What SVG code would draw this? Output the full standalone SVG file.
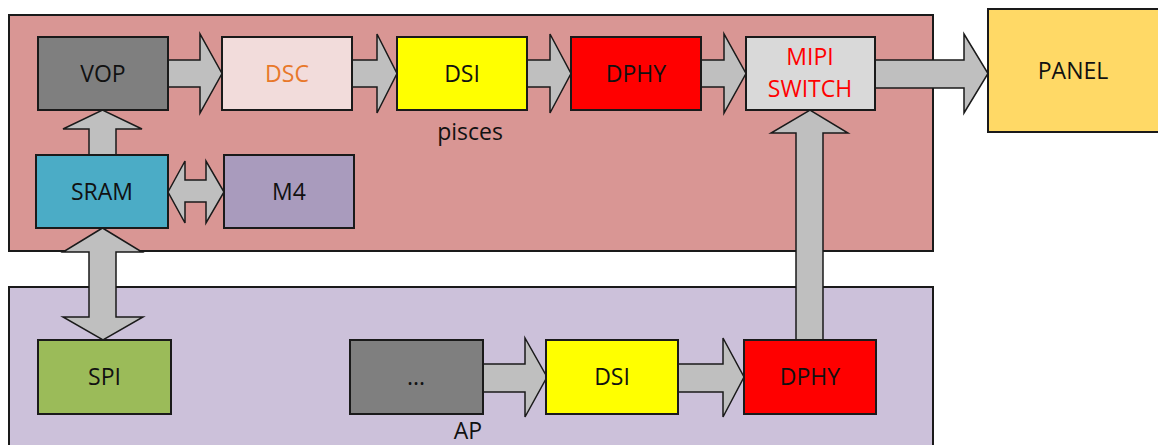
<svg xmlns="http://www.w3.org/2000/svg" width="1158" height="445" viewBox="0 0 1158 445">
<style>
.box{stroke:#1a1a1a;stroke-width:2}
.ar{fill:#BFBFBF;stroke:#1a1a1a;stroke-width:1.5;stroke-linejoin:miter}
.t{font-family:"Open Sans","Liberation Sans",sans-serif;font-size:23px;fill:#111;text-anchor:middle}
</style>
<rect width="1158" height="445" fill="#ffffff"/>
<g id="pisces">
<rect class="box" x="9" y="15" width="924" height="236" fill="#D99694"/>
<text class="t" x="470" y="140">pisces</text>
</g>
<g id="ap">
<rect class="box" x="9" y="287" width="924" height="170" fill="#CCC1DA"/>
<text class="t" x="468" y="439">AP</text>
</g>
<g id="connectors">
<polygon class="ar" points="168,60 200,60 200,34 222,73.5 200,113 200,87 168,87"/>
<polygon class="ar" points="352,60 377,60 377,34 397,73.5 377,113 377,87 352,87"/>
<polygon class="ar" points="527,60 550,60 550,34 571,73.5 550,113 550,87 527,87"/>
<polygon class="ar" points="701,60 724,60 724,34 746,73.5 724,113 724,87 701,87"/>
<polygon class="ar" points="875,60 964,60 964,34 988,73.5 964,113 964,88 875,88"/>
<polygon class="ar" points="89,155 89,129 63,129 102.5,110 142,129 116,129 116,155"/>
<polygon class="ar" points="168,192 185,161 185,180 206,180 206,161 224,192 206,223 206,202 185,202 185,223"/>
<polygon class="ar" points="102.5,228 142,252 116,252 116,317 143,317 103,340 63,317 89,317 89,252 63,252"/>
<polygon class="ar" points="483,364 525,364 525,338 547,377 525,417 525,392 483,392"/>
<polygon class="ar" points="678,364 723,364 723,338 744,377 723,417 723,392 678,392"/>
<polygon class="ar" points="796,340 796,133 771,133 810,110 848,133 823,133 823,340"/>
</g>
<g id="vop">
<rect class="box" x="38" y="37" width="130" height="73" fill="#7F7F7F"/>
<text class="t" x="103" y="82">VOP</text>
</g>
<g id="dsc">
<rect class="box" x="222" y="37" width="130" height="73" fill="#F2DCDB"/>
<text class="t" x="287" y="82" style="fill:#E8782A">DSC</text>
</g>
<g id="dsi-pisces">
<rect class="box" x="397" y="37" width="130" height="73" fill="#FFFF00"/>
<text class="t" x="462" y="82">DSI</text>
</g>
<g id="dphy-pisces">
<rect class="box" x="571" y="37" width="130" height="73" fill="#FF0000"/>
<text class="t" x="636" y="82">DPHY</text>
</g>
<g id="mipi-switch">
<rect class="box" x="746" y="37" width="129" height="73" fill="#D9D9D9"/>
<text class="t" x="810" y="65" style="fill:#FF0000">MIPI</text>
<text class="t" x="810" y="97" style="fill:#FF0000">SWITCH</text>
</g>
<g id="panel">
<rect class="box" x="988" y="9" width="172" height="123" fill="#FFD966"/>
<text class="t" x="1073" y="79">PANEL</text>
</g>
<g id="sram">
<rect class="box" x="36" y="155" width="132" height="73" fill="#4BACC6"/>
<text class="t" x="102" y="200">SRAM</text>
</g>
<g id="m4">
<rect class="box" x="224" y="155" width="130" height="73" fill="#A99BBD"/>
<text class="t" x="289" y="200">M4</text>
</g>
<g id="spi">
<rect class="box" x="38" y="340" width="133" height="74" fill="#9BBB59"/>
<text class="t" x="104.5" y="385">SPI</text>
</g>
<g id="dots">
<rect class="box" x="350" y="340" width="133" height="74" fill="#7F7F7F"/>
<text class="t" x="416" y="385">...</text>
</g>
<g id="dsi-ap">
<rect class="box" x="546" y="340" width="132" height="74" fill="#FFFF00"/>
<text class="t" x="612" y="385">DSI</text>
</g>
<g id="dphy-ap">
<rect class="box" x="744" y="340" width="132" height="74" fill="#FF0000"/>
<text class="t" x="810" y="385">DPHY</text>
</g>
</svg>
